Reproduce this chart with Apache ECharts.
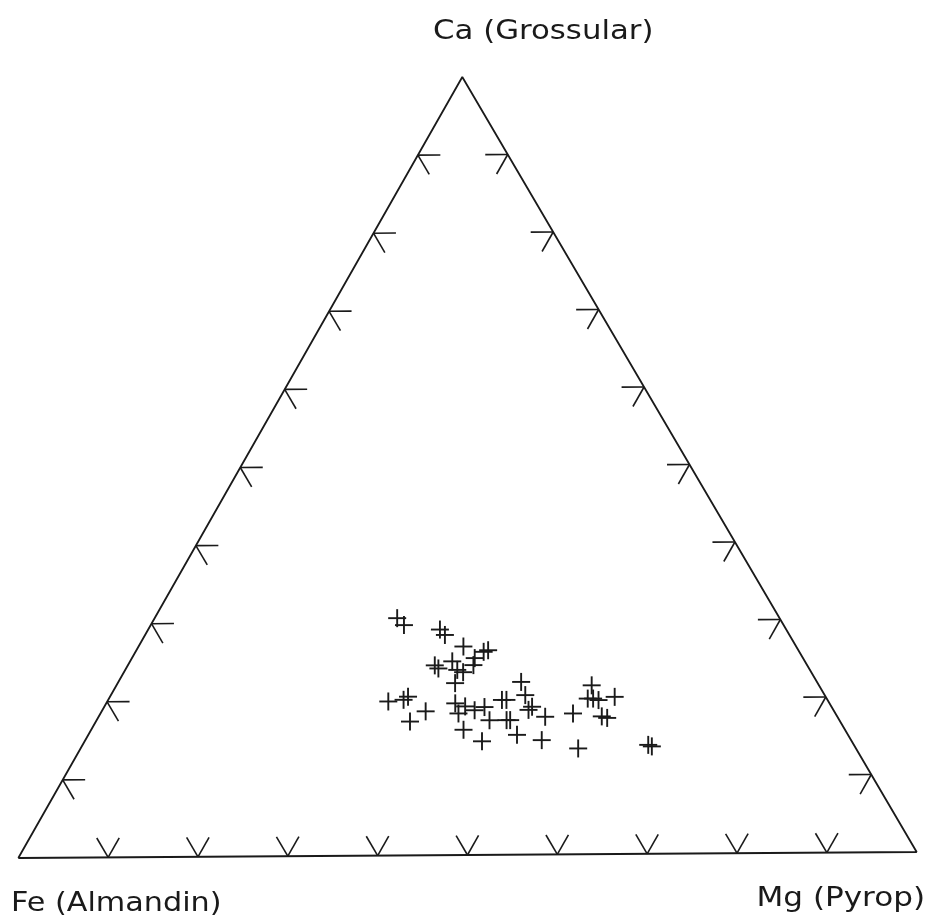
<!DOCTYPE html>
<html>
<head>
<meta charset="utf-8">
<script src="https://cdn.jsdelivr.net/npm/echarts@6/dist/echarts.min.js"></script>
<style>
  html, body { margin: 0; padding: 0; background: #ffffff; }
  #chart { width: 929px; height: 921px; }
</style>
</head>
<body>
<div id="chart"></div>
<script>
// Garnet end-member proportions, mol %
const almandin  = [42.4, 42.1, 38.4, 38.2, 36.9, 35.0, 34.4, 36.4, 37.0, 41.3,
                   41.1, 39.1, 39.1, 38.6, 40.2, 48.8, 47.0, 46.3, 45.3, 47.7,
                   41.5, 40.6, 41.8, 39.8, 38.5, 38.8, 42.3, 41.0, 32.8, 33.2,
                   36.1, 35.6, 33.8, 33.2, 36.9, 36.5, 32.4, 36.7, 34.3, 29.1,
                   30.8, 25.2, 26.5, 25.9, 25.4, 23.4, 26.1, 25.6, 22.8, 22.5];
const pyrop     = [27.1, 28.3, 32.6, 33.5, 36.3, 38.9, 39.3, 38.3, 38.6, 34.3,
                   34.9, 36.0, 37.1, 37.9, 37.7, 31.4, 33.0, 33.3, 36.2, 35.1,
                   39.0, 40.3, 40.0, 41.6, 42.5, 43.9, 41.6, 44.4, 45.0, 46.3,
                   44.0, 44.5, 47.6, 47.8, 45.8, 46.2, 49.9, 47.9, 51.0, 52.8,
                   55.6, 53.1, 53.5, 54.1, 54.8, 56.4, 56.2, 56.9, 63.2, 63.7];
const grossular = [30.5, 29.6, 29.0, 28.3, 26.8, 26.1, 26.3, 25.3, 24.4, 24.4,
                   24.0, 24.9, 23.8, 23.5, 22.1, 19.8, 20.0, 20.4, 18.5, 17.2,
                   19.5, 19.1, 18.2, 18.6, 19.0, 17.3, 16.1, 14.6, 22.2, 20.5,
                   19.9, 19.9, 18.6, 19.0, 17.3, 17.3, 17.7, 15.4, 14.7, 18.1,
                   13.6, 21.7, 20.0, 20.0, 19.8, 20.2, 17.7, 17.5, 14.0, 13.8];

// Grid stubs along each edge, every 10 %
const tickSteps = [10, 20, 30, 40, 50, 60, 70, 80, 90];
const cornerLabels = { fe: 'Fe (Almandin)', mg: 'Mg (Pyrop)', ca: 'Ca (Grossular)' };

// Ternary -> plane: Fe at origin, Mg at (1,0), Ca at the apex;
// the whole frame is turned by a small angle.
const SQ3 = Math.sqrt(3) / 2;
const TILT = 0.00668;
function toXY(fe, mg, ca) {
  const s = fe + mg + ca;
  const m = mg / s, c = ca / s;
  const x0 = m + c / 2, y0 = c * SQ3;
  return [x0 * Math.cos(TILT) - y0 * Math.sin(TILT),
          x0 * Math.sin(TILT) + y0 * Math.cos(TILT)];
}

const STUB = 2.5; // stub length, in %
const stubs = [];
tickSteps.forEach(function (t) {
  // base (Ca = 0): V pointing down
  stubs.push(toXY(100 - t, t, 0).concat(toXY(100 - t - STUB, t, STUB)));
  stubs.push(toXY(100 - t, t, 0).concat(toXY(100 - t, t - STUB, STUB)));
  // left edge (Mg = 0): arrow opening to the right
  stubs.push(toXY(100 - t, 0, t).concat(toXY(100 - t - STUB, STUB, t)));
  stubs.push(toXY(100 - t, 0, t).concat(toXY(100 - t, STUB, t - STUB)));
  // right edge (Fe = 0): arrow opening to the left
  stubs.push(toXY(0, 100 - t, t).concat(toXY(STUB, 100 - t - STUB, t)));
  stubs.push(toXY(0, 100 - t, t).concat(toXY(STUB, 100 - t, t - STUB)));
});

const outline = [toXY(100, 0, 0), toXY(0, 100, 0), toXY(0, 0, 100), toXY(100, 0, 0)];
const points = almandin.map(function (fe, i) { return toXY(fe, pyrop[i], grossular[i]); });

const INK = '#1a1a1a';
const LABEL_FONT = '27px "DejaVu Sans"';
const chart = echarts.init(document.getElementById('chart'));
chart.setOption({
  backgroundColor: '#ffffff',
  animation: false,
  grid: { left: 0, right: 0, top: 0, bottom: 0 },
  xAxis: { type: 'value', min: -0.02037, max: 1.01369, show: false },
  yAxis: { type: 'value', min: -0.07012, max: 0.95503, show: false },
  series: [
    {
      type: 'line',
      data: outline,
      symbol: 'none',
      silent: true,
      lineStyle: { color: INK, width: 1.8 }
    },
    {
      type: 'custom',
      data: stubs,
      silent: true,
      renderItem: function (params, api) {
        const a = api.coord([api.value(0), api.value(1)]);
        const b = api.coord([api.value(2), api.value(3)]);
        return {
          type: 'line',
          shape: { x1: a[0], y1: a[1], x2: b[0], y2: b[1] },
          style: { stroke: INK, lineWidth: 1.6 }
        };
      }
    },
    {
      type: 'custom',
      data: points,
      silent: true,
      renderItem: function (params, api) {
        const p = api.coord([api.value(0), api.value(1)]);
        const r = 9;
        return {
          type: 'group',
          children: [
            { type: 'line', shape: { x1: p[0] - r, y1: p[1], x2: p[0] + r, y2: p[1] },
              style: { stroke: INK, lineWidth: 1.9 } },
            { type: 'line', shape: { x1: p[0], y1: p[1] - r, x2: p[0], y2: p[1] + r },
              style: { stroke: INK, lineWidth: 1.9 } }
          ]
        };
      }
    }
  ],
  graphic: [
    { type: 'text', left: 433, top: 18, scaleX: 1.14,
      style: { text: cornerLabels.ca, font: LABEL_FONT, fill: INK } },
    { type: 'text', left: 11, top: 890, scaleX: 1.12,
      style: { text: cornerLabels.fe, font: LABEL_FONT, fill: INK } },
    { type: 'text', right: 4, top: 885, scaleX: 1.15,
      style: { text: cornerLabels.mg, font: LABEL_FONT, fill: INK } }
  ]
});
</script>
</body>
</html>
